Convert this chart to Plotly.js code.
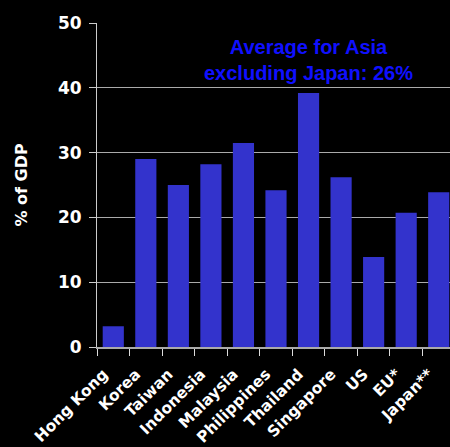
<!DOCTYPE html>
<html><head><meta charset="utf-8">
<script src="https://cdn.plot.ly/plotly-3.0.1.min.js"></script>
<style>html,body{margin:0;padding:0;background:#000;overflow:hidden;width:450px;height:447px;}</style>
</head><body><div id="chart"></div>
<script>
const categories = ["Hong Kong","Korea","Taiwan","Indonesia","Malaysia","Philippines","Thailand","Singapore","US","EU*","Japan**"];
const values = [3.2, 29.0, 25.0, 28.2, 31.5, 24.2, 39.2, 26.2, 13.9, 20.7, 23.9];
const yTicks = [0,10,20,30,40,50];

const trace = {
  type: "bar", x: categories, y: values,
  marker: {color: "#3333cc"}, hoverinfo: "none"
};
const layout = {
  width: 458, height: 447,
  margin: {l: 97, r: 3, t: 23, b: 100},
  paper_bgcolor: "#000", plot_bgcolor: "#000",
  bargap: 0.35, showlegend: false,
  font: {family: "DejaVu Sans", color: "#fff"},
  xaxis: {
    type: "category", range: [-0.5, 10.5],
    showline: true, linecolor: "#aaa", linewidth: 2,
    ticks: "outside", tickson: "boundaries", ticklen: 7, tickcolor: "#ddd", tickwidth: 1,
    tickangle: -45, ticklabelstandoff: 10, ticklabelshift: -10,
    tickfont: {family: "DejaVu Sans", size: 15.5, color: "#fff", weight: "bold"},
    showgrid: false, zeroline: false
  },
  yaxis: {
    range: [0, 50], tickvals: yTicks, ticktext: yTicks.map(String),
    showline: true, linecolor: "#ccc", linewidth: 1,
    ticks: "outside", ticklen: 7, tickcolor: "#ccc", ticklabelstandoff: 4,
    showgrid: true, gridcolor: "#aaa", gridwidth: 1, zeroline: false,
    tickfont: {family: "DejaVu Sans", size: 17, color: "#fff", weight: "bold"},
    title: {text: "% of GDP", standoff: 26, font: {family: "DejaVu Sans", size: 16, color: "#fff", weight: "bold"}}
  },
  annotations: [{
    xref: "paper", yref: "paper", x: 0.592, y: 0.886, xanchor: "center", yanchor: "middle",
    text: "Average for Asia<br>excluding Japan: 26%", showarrow: false,
    font: {family: "Liberation Sans", size: 20, color: "#1010ff", weight: "bold"}
  }]
};
Plotly.newPlot("chart", [trace], layout, {displayModeBar: false, staticPlot: true});
</script></body></html>
